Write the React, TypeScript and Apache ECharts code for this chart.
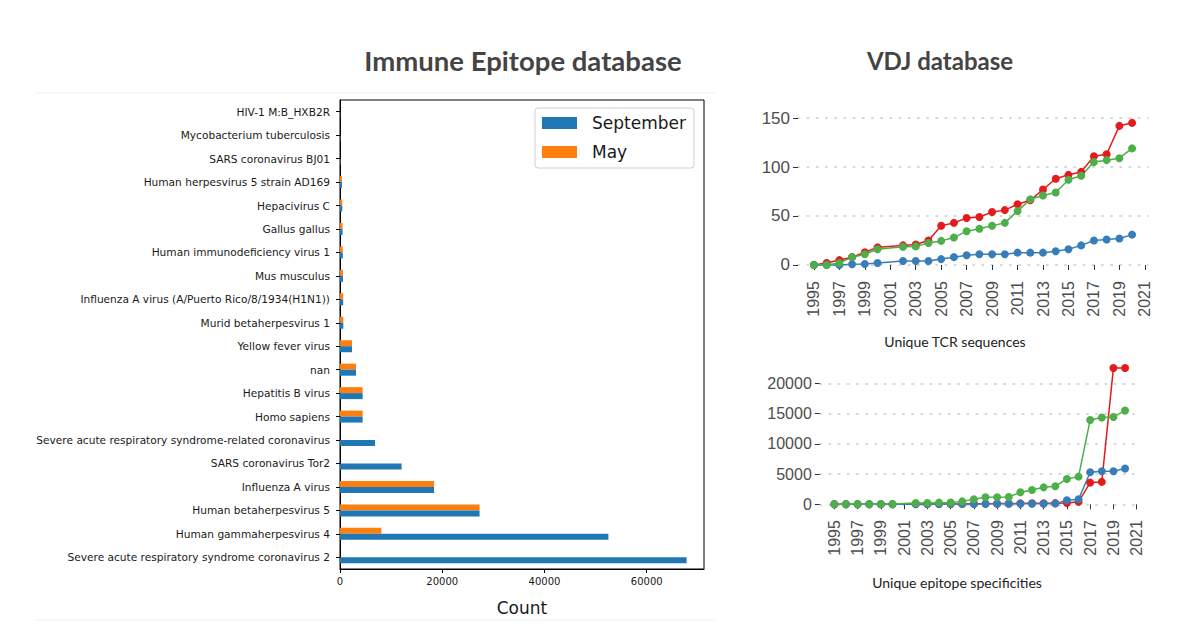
import React, { useEffect, useRef } from "react";
import * as echarts from "echarts";

// Immune Epitope database (bottom to top)
const organisms = [
  "Severe acute respiratory syndrome coronavirus 2",
  "Human gammaherpesvirus 4",
  "Human betaherpesvirus 5",
  "Influenza A virus",
  "SARS coronavirus Tor2",
  "Severe acute respiratory syndrome-related coronavirus",
  "Homo sapiens",
  "Hepatitis B virus",
  "nan",
  "Yellow fever virus",
  "Murid betaherpesvirus 1",
  "Influenza A virus (A/Puerto Rico/8/1934(H1N1))",
  "Mus musculus",
  "Human immunodeficiency virus 1",
  "Gallus gallus",
  "Hepacivirus C",
  "Human herpesvirus 5 strain AD169",
  "SARS coronavirus BJ01",
  "Mycobacterium tuberculosis",
  "HIV-1 M:B_HXB2R",
];
const septemberCounts = [67800, 52500, 27300, 18400, 12050, 6850, 4430, 4430, 3130, 2350, 650, 620, 580, 540, 500, 450, 380, 130, 100, 60];
const mayCounts = [0, 8090, 27300, 18400, 0, 0, 4430, 4430, 3130, 2350, 650, 620, 580, 540, 500, 450, 380, 0, 0, 0];
const countTicks = [0, 20000, 40000, 60000];

// VDJ database
const years = [1995, 1996, 1997, 1998, 1999, 2000, 2002, 2003, 2004, 2005, 2006, 2007, 2008, 2009, 2010, 2011, 2012, 2013, 2014, 2015, 2016, 2017, 2018, 2019, 2020];
const yearTicks = [1995, 1997, 1999, 2001, 2003, 2005, 2007, 2009, 2011, 2013, 2015, 2017, 2019, 2021];

const tcrRed = [0, 2, 5, 8, 13, 18, 20, 21, 25, 40, 43, 48, 49, 54, 56, 62, 66, 77, 88, 92, 95, 111, 113, 142, 145];
const tcrBlue = [0, 0, 0, 0.7, 1, 2, 4, 4, 4, 6, 8, 10, 11, 11, 11, 12.6, 12.6, 12.6, 14, 16, 20, 25, 26, 27, 31];
const tcrGreen = [0, 0, 2, 8, 11, 16, 18.5, 19, 22.5, 24.6, 28, 34.5, 37, 40, 43, 55, 67, 71, 74, 87, 91, 105, 107, 109, 119];
const tcrTicks = [0, 50, 100, 150];

const epiRed = [0, 0, 0, 0, 0, 0, 30, 40, 50, 60, 70, 90, 100, 110, 120, 150, 170, 180, 190, 210, 400, 3580, 3700, 22540, 22540];
const epiBlue = [0, 0, 0, 0, 0, 0, 20, 25, 30, 40, 50, 60, 70, 80, 90, 100, 100, 100, 110, 660, 830, 5290, 5460, 5460, 5900];
const epiGreen = [10, 10, 10, 10, 20, 30, 200, 200, 270, 280, 480, 830, 1150, 1160, 1200, 1980, 2370, 2800, 2980, 4190, 4570, 13940, 14330, 14440, 15490];
const epiTicks = [0, 5000, 10000, 15000, 20000];

const pairs = (vals: number[]) => years.map((y, i) => [y, vals[i]]);

const RED = "#e41a1c";
const BLUE = "#377eb8";
const GREEN = "#4daf4a";

const lineSeries = (name: string, color: string, vals: number[], idx: number) => ({
  name,
  type: "line",
  xAxisIndex: idx,
  yAxisIndex: idx,
  data: pairs(vals),
  symbol: "circle",
  symbolSize: 8,
  itemStyle: { color },
  lineStyle: { color, width: 1.5 },
});

const vdjXAxis = (gridIndex: number) => ({
  type: "value",
  gridIndex,
  min: 1993.75,
  max: 2021.25,
  axisLine: { show: false },
  axisTick: { show: true, customValues: yearTicks, length: 5, lineStyle: { color: "#333", width: 1 } },
  axisLabel: {
    customValues: yearTicks,
    rotate: 90,
    fontSize: 16,
    color: "#4d4d4d",
    margin: 9,
    fontFamily: "Liberation Sans",
    formatter: (v: number) => String(v),
  },
  splitLine: { show: false },
});

const vdjYAxis = (gridIndex: number, min: number, max: number, ticks: number[], fontSize: number) => ({
  type: "value",
  gridIndex,
  min,
  max,
  axisLine: { show: false },
  axisTick: { show: true, customValues: ticks, length: 5, lineStyle: { color: "#333", width: 1 } },
  axisLabel: {
    customValues: ticks,
    fontSize,
    color: "#4d4d4d",
    margin: 8,
    fontFamily: "Liberation Sans",
    formatter: (v: number) => String(v),
  },
  splitLine: { show: true, lineStyle: { color: "#cccccc", width: 1.6, type: [1.6, 7.6], cap: "round" } },
});

export default function App() {
  const ref = useRef<HTMLDivElement>(null);
  useEffect(() => {
    if (!ref.current) return;
    const chart = echarts.init(ref.current, null, { renderer: "svg" });
    chart.setOption({
      animation: false,
      backgroundColor: "#ffffff",
      grid: [
        { left: 340, top: 100, width: 364, height: 469, show: true, borderColor: "#000", borderWidth: 1, backgroundColor: "transparent" },
        { left: 798, top: 115.8, width: 350, height: 156.3 },
        { left: 819.8, top: 361.1, width: 319.8, height: 150 },
      ],
      legend: {
        data: ["September", "May"],
        orient: "vertical",
        left: 535,
        top: 108,
        icon: "rect",
        itemWidth: 35,
        itemHeight: 12,
        itemGap: 9,
        padding: [5, 8, 6, 7],
        borderColor: "#d0d0d0",
        borderWidth: 1,
        borderRadius: 3,
        backgroundColor: "#fff",
        textStyle: { fontSize: 17, fontFamily: "DejaVu Sans", color: "#1a1a1a", padding: [0, 0, 0, 10], lineHeight: 20 },
      },
      xAxis: [
        {
          type: "value",
          gridIndex: 0,
          min: 0,
          max: 71200,
          axisLine: { show: true, lineStyle: { color: "#000" } },
          axisTick: { show: true, customValues: countTicks, length: 4, lineStyle: { color: "#000" } },
          axisLabel: {
            customValues: countTicks,
            fontSize: 10,
            fontFamily: "DejaVu Sans",
            color: "#1a1a1a",
            margin: 7,
            formatter: (v: number) => String(v),
          },
          splitLine: { show: false },
          name: "Count",
          nameLocation: "middle",
          nameGap: 30,
          nameTextStyle: { fontSize: 17, fontFamily: "DejaVu Sans", color: "#1a1a1a" },
        },
        vdjXAxis(1),
        vdjXAxis(2),
      ],
      yAxis: [
        {
          type: "category",
          gridIndex: 0,
          data: organisms,
          axisLine: { show: true, lineStyle: { color: "#000" } },
          axisTick: { show: true, alignWithLabel: true, length: 4, lineStyle: { color: "#000" } },
          axisLabel: { fontSize: 10.6, fontFamily: "DejaVu Sans", color: "#1a1a1a", margin: 10, interval: 0 },
          splitLine: { show: false },
        },
        vdjYAxis(1, -7.25, 152.25, tcrTicks, 17),
        vdjYAxis(2, -1127, 23667, epiTicks, 16),
      ],
      series: [
        { name: "May", type: "bar", xAxisIndex: 0, yAxisIndex: 0, data: mayCounts, barWidth: 6, barGap: "0%", itemStyle: { color: "#ff7f0e" } },
        { name: "September", type: "bar", xAxisIndex: 0, yAxisIndex: 0, data: septemberCounts, barWidth: 6, barGap: "0%", itemStyle: { color: "#1f77b4" } },
        lineSeries("TCR red", RED, tcrRed, 1),
        lineSeries("TCR blue", BLUE, tcrBlue, 1),
        lineSeries("TCR green", GREEN, tcrGreen, 1),
        lineSeries("Epitope red", RED, epiRed, 2),
        lineSeries("Epitope blue", BLUE, epiBlue, 2),
        lineSeries("Epitope green", GREEN, epiGreen, 2),
      ],
      graphic: [
        { type: "line", shape: { x1: 35, y1: 93, x2: 715, y2: 93 }, style: { stroke: "#f0f0f0", lineWidth: 1 } },
        { type: "line", shape: { x1: 35, y1: 620, x2: 715, y2: 620 }, style: { stroke: "#f0f0f0", lineWidth: 1 } },
        {
          type: "text",
          x: 523,
          y: 60,
          style: { text: "Immune Epitope database", fontSize: 27.5, fontWeight: 700, fontFamily: "Lato", fill: "#444", textAlign: "center", textVerticalAlign: "middle" },
        },
        {
          type: "text",
          x: 940,
          y: 60,
          style: { text: "VDJ database", fontSize: 24, fontWeight: 700, fontFamily: "Lato", fill: "#444", textAlign: "center", textVerticalAlign: "middle" },
        },
        {
          type: "text",
          x: 955,
          y: 341,
          style: { text: "Unique TCR sequences", fontSize: 14, fontFamily: "Lato", fill: "#222", textAlign: "center", textVerticalAlign: "middle" },
        },
        {
          type: "text",
          x: 957,
          y: 582,
          style: { text: "Unique epitope specificities", fontSize: 14, fontFamily: "Lato", fill: "#222", textAlign: "center", textVerticalAlign: "middle" },
        },
      ],
    });
    return () => chart.dispose();
  }, []);
  return <div ref={ref} style={{ position: "fixed", left: 0, top: 0, width: 1200, height: 628 }} />;
}
